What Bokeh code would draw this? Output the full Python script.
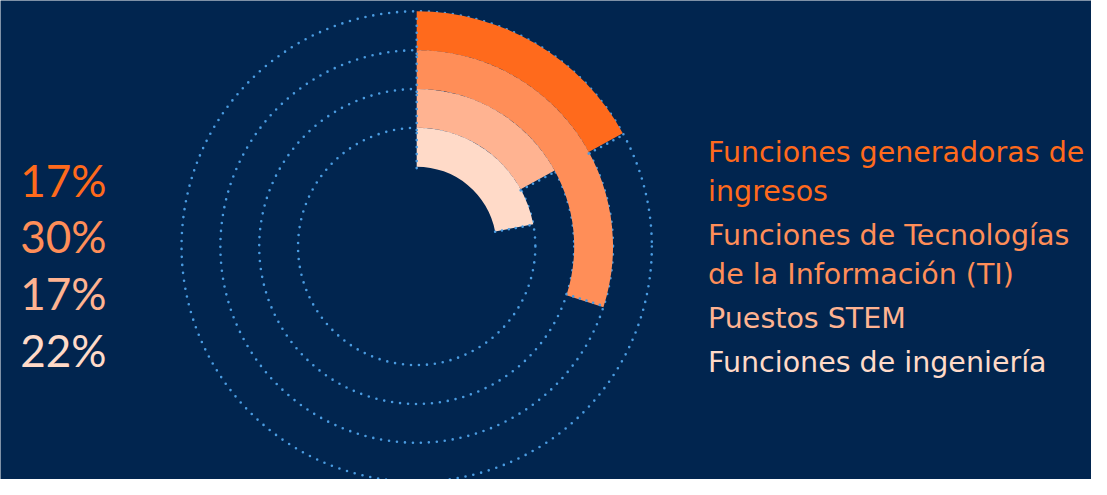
import math
from bokeh.plotting import figure
from bokeh.models import Range1d, ColumnDataSource
from bokeh.core.properties import value
from bokeh.embed import file_html
from bokeh.resources import INLINE

# ---- data ----
categories = ["Funciones generadoras de ingresos",
              "Funciones de Tecnologías de la Información (TI)",
              "Puestos STEM",
              "Funciones de ingeniería"]
values = [17, 30, 17, 22]
label_lines = [["Funciones generadoras de", "ingresos"],
               ["Funciones de Tecnologías", "de la Información (TI)"],
               ["Puestos STEM"],
               ["Funciones de ingeniería"]]
colors = ["#FF6A1C", "#FF8E58", "#FFB391", "#FFDAC8"]

BG = "#01254F"
DOT = "#4A9BE0"

W, H = 1091, 479
p = figure(width=W, height=H, output_backend="svg", toolbar_location=None,
           x_range=Range1d(0, 1107), y_range=Range1d(-495, 0),
           min_border=0, background_fill_color=BG, border_fill_color=BG,
           outline_line_color=None)
p.axis.visible = False
p.grid.visible = False

cx, cy = 422.3, -254.2
r0, dr = 81.0, 39.4
n = len(values)
inner = [r0 + dr * (n - 1 - i) for i in range(n)]
outer = [r + dr for r in inner]
start = [math.pi / 2] * n
end = [math.pi / 2 - 2 * math.pi * v / 100 for v in values]

# dotted track circles
p.circle(x=[cx] * n, y=[cy] * n, radius=outer, fill_color=None,
         line_color=DOT, line_width=2.6, line_dash="0 8", line_cap="round")

src = ColumnDataSource(dict(x=[cx] * n, y=[cy] * n, ri=inner, ro=outer,
                            sa=start, ea=end, c=colors))
p.annular_wedge(x="x", y="y", inner_radius="ri", outer_radius="ro",
                start_angle="ea", end_angle="sa", fill_color="c",
                line_color=None, source=src)

# dotted radial edges
xs0, ys0, xs1, ys1 = [], [], [], []
for i in range(n):
    for a in (start[i], end[i]):
        xs0.append(cx + inner[i] * math.cos(a)); ys0.append(cy + inner[i] * math.sin(a))
        xs1.append(cx + outer[i] * math.cos(a)); ys1.append(cy + outer[i] * math.sin(a))
p.segment(x0=xs0, y0=ys0, x1=xs1, y1=ys1, line_color=DOT, line_width=2.6,
          line_dash="0 7", line_cap="round")

# percentages on the left
pct_y = [-185, -243.5, -302, -361]
p.text(x=[20] * n, y=pct_y, text=[f"{v}%" for v in values],
       text_color=colors, text_font=value("Lato"), text_font_size="44px",
       text_baseline="alphabetic", text_align="left")

# labels on the right
lx, ly, lc = [], [], []
y = 156.7
for i, lines in enumerate(label_lines):
    for j, t in enumerate(lines):
        lx.append(t); ly.append(-y); lc.append(colors[i])
        y += 40.5
    y += 5
p.text(x=[718] * len(lx), y=ly, text=lx, text_color=lc,
       text_font=value("DejaVu Sans"), text_font_size="28.5px",
       text_baseline="alphabetic", text_align="left")

html = file_html(p, INLINE)
html = html.replace("<body>", f'<body style="background:{BG};">', 1)
open("out.html", "w").write(html)
